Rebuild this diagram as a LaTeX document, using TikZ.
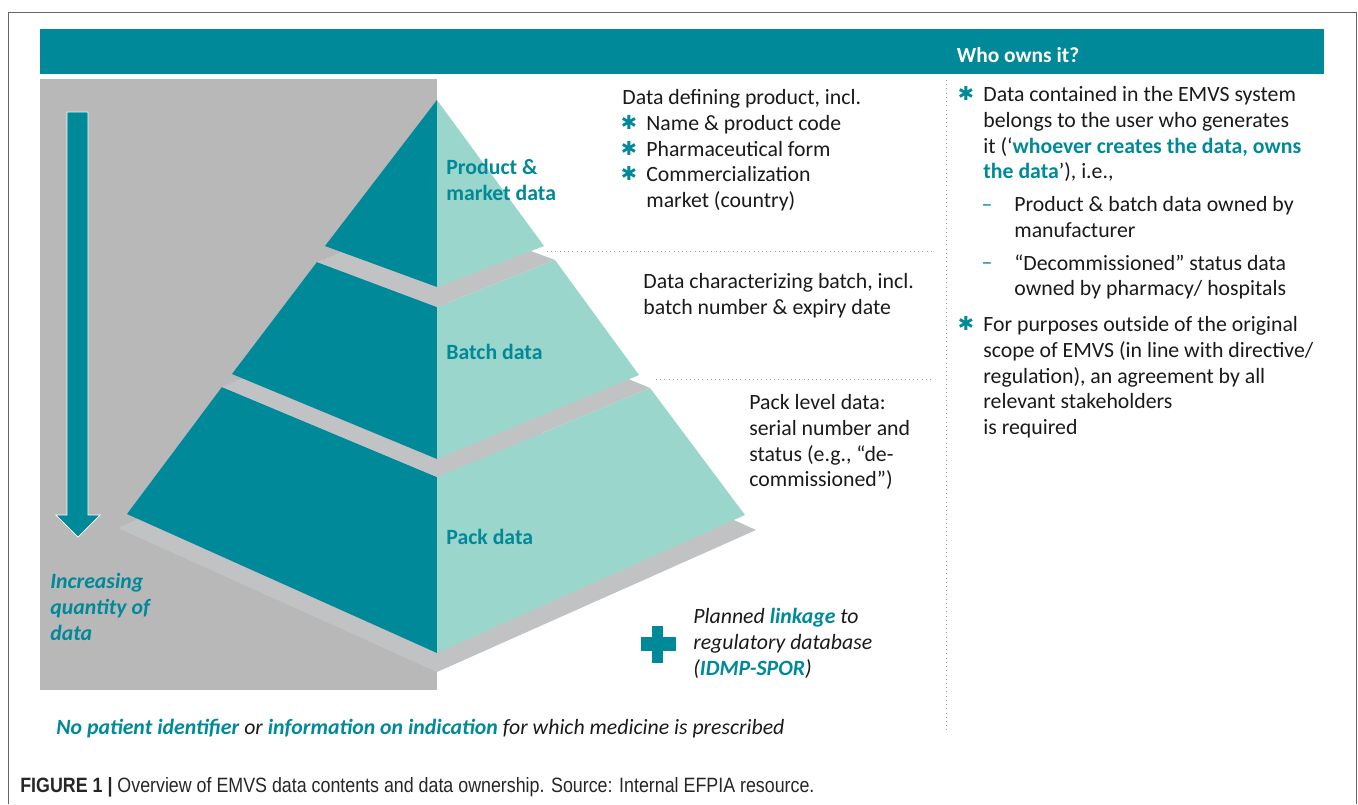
\documentclass[tikz,border=0pt]{standalone}
\usepackage{fontspec}
\setmainfont{Carlito}
\newfontfamily\symfont{DejaVu Sans}
\newfontfamily\capfont[FakeStretch=0.86]{Liberation Sans}

\definecolor{emvsteal}{RGB}{0,137,152}
\definecolor{emvslight}{RGB}{155,214,204}
\definecolor{panelgray}{RGB}{184,184,184}
\definecolor{bandgray}{RGB}{193,194,196}
\definecolor{inkblack}{RGB}{26,26,26}

\tikzset{
	body/.style={anchor=north west, inner sep=0pt, align=left, text=inkblack,
		font=\fontsize{12.4}{14.7}\selectfont},
	tierlabel/.style={body, text=emvsteal, font=\fontsize{12.4}{14.7}\selectfont\bfseries},
	star/.style={inner sep=0pt, text=emvsteal, font=\symfont\fontsize{11}{11}\selectfont},
	subdash/.style={inner sep=0pt, text=emvsteal, font=\fontsize{12.4}{14.7}\selectfont},
	sepline/.style={draw=gray!75, dotted, line width=0.4pt},
}
\newcommand{\hl}[1]{\textcolor{emvsteal}{\bfseries #1}}

\begin{document}
\begin{tikzpicture}[x=0.02cm, y=-0.02cm]
		\useasboundingbox (0,0) rectangle (1358,804);
		
		% frame
		\draw[gray!80!black, line width=0.5pt] (8,804) -- (8,12) -- (1356,12) -- (1356,804);
		
		% header bar
		\fill[emvsteal] (40,29) rectangle (1324,74);
		\node[inner sep=0pt, text=white, font=\fontsize{12.2}{14.7}\selectfont\bfseries] (owner) at (1018,55) {Who owns it?};
		
		% grey panel and arrow
		\fill[panelgray] (40,79) rectangle (437,690);
		\draw[white, line width=0.4pt, fill=emvsteal] (67,112) -- (88,112) -- (88,515) -- (100,515)
			-- (78,537) -- (56,515) -- (67,515) -- cycle;
		\node[body, text=emvsteal, font=\fontsize{12.4}{14.7}\selectfont\bfseries\itshape] (more) at (50,573)
			{Increasing\\quantity of\\data};
		
		% pyramid, bottom slab first
		\fill[bandgray] (118,528) -- (437,672) -- (756,530) -- (437,386) -- cycle;
		
		% pack tier
		\fill[emvsteal] (222,387) -- (437,477) -- (437,653) -- (127,514) -- cycle;
		\fill[emvslight] (437,477) -- (650,388) -- (745,515) -- (437,653) -- cycle;
		\fill[bandgray] (222,387) -- (437,477) -- (650,388) -- (435,298) -- cycle;
		
		% batch tier
		\fill[emvsteal] (317,262) -- (437,307) -- (437,459) -- (232,374) -- cycle;
		\fill[emvslight] (437,307) -- (555,260) -- (639,375) -- (437,459) -- cycle;
		\fill[bandgray] (317,262) -- (437,307) -- (555,260) -- (435,215) -- cycle;
		
		% product tier
		\fill[emvsteal] (437,100) -- (437,287) -- (325,246) -- cycle;
		\fill[emvslight] (437,100) -- (544,246) -- (437,287) -- cycle;
		
		% tier labels
		\node[tierlabel] (prod) at (446,159) {Product \&\\market data};
		\node[tierlabel] (batch) at (446,344) {Batch data};
		\node[tierlabel] (pack) at (446,529) {Pack data};
		
		% separators
		\draw[sepline] (547,251) -- (933,251);
		\draw[sepline] (656,379) -- (933,379);
		\draw[sepline] (946,80) -- (946,733);
		
		% what each tier holds
		\node[body] (proddef) at (622,89) {Data defining product, incl.};
		\node[body] (name) at (646,115) {Name \& product code};
		\node[body] (form) at (646,141) {Pharmaceutical form};
		\node[body] (market) at (646,166) {Commercialization\\market (country)};
		\node[star] at (629,122) {✱};
		\node[star] at (629,148) {✱};
		\node[star] at (629,173) {✱};
		\node[body] (batchdef) at (643,273) {Data characterizing batch, incl.\\batch number \& expiry date};
		\node[body] (packdef) at (749,394) {Pack level data:\\serial number and\\status (e.g., “de-\\commissioned”)};
		
		% linkage
		\fill[emvsteal] (641,637) rectangle (676,651);
		\fill[emvsteal] (652,626) rectangle (663,663);
		\node[body, font=\fontsize{12.4}{14.7}\selectfont\itshape] (link) at (693,608)
			{Planned \hl{linkage} to\\regulatory database\\(\hl{IDMP-SPOR})};
		
		% ownership
		\node[star] at (966,93) {✱};
		\node[body] (own) at (983,86) {Data contained in the EMVS system\\belongs to the user who generates\\it (‘\hl{whoever creates the data, owns}\\\hl{the data}’), i.e.,};
		\node[subdash] at (987,208) {–};
		\node[body] (maker) at (1014,196) {Product \& batch data owned by\\manufacturer};
		\node[subdash] at (987,266) {–};
		\node[body] (pharm) at (1014,254) {“Decommissioned” status data\\owned by pharmacy/ hospitals};
		\node[star] at (966,323) {✱};
		\node[body] (scope) at (983,316) {For purposes outside of the original\\scope of EMVS (in line with directive/\\regulation), an agreement by all\\relevant stakeholders\\is required};
		
		% footnote
		\node[body, font=\fontsize{12.4}{14.7}\selectfont\itshape] (nopat) at (56,719)
			{\hl{No patient identifier} or \hl{information on indication} for which medicine is prescribed};
		
		% caption
		\node[anchor=base west, inner sep=0pt, text=black!85, font=\capfont\fontsize{11.8}{13}\selectfont] (cap) at (20,792)
			{\textbf{FIGURE 1 |} Overview of EMVS data contents and data ownership. Source: Internal EFPIA resource.};
	\end{tikzpicture}
\end{document}
